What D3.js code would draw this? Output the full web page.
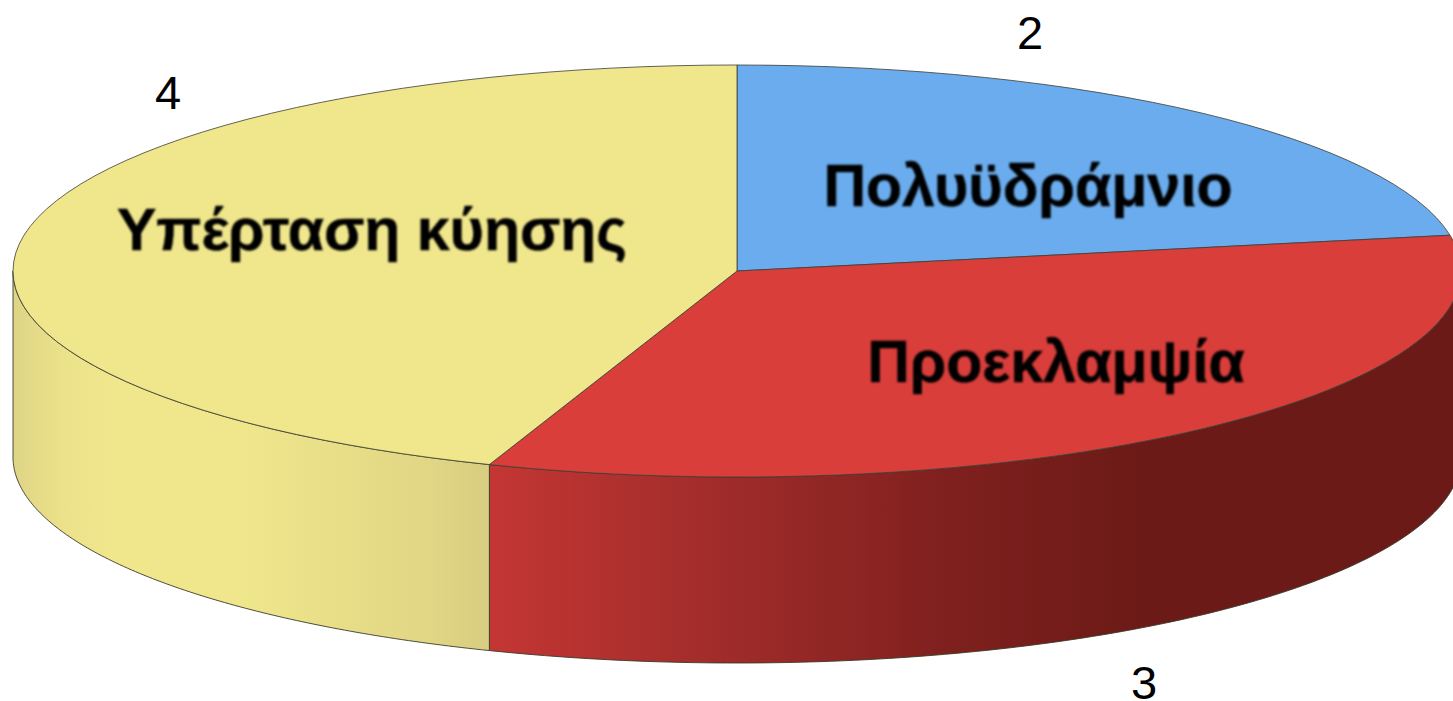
<!DOCTYPE html>
<html lang="el">
<head>
<meta charset="utf-8">
<title>Pie</title>
<script src="https://cdn.jsdelivr.net/npm/d3@7"></script>
<style>
html,body{margin:0;padding:0;background:#fff;overflow:hidden}
svg{display:block}
text{font-family:"Liberation Sans",Arial,sans-serif;fill:#000}
</style>
</head>
<body>
<svg id="chart" width="1453" height="701"></svg>
<script>
// Data
const categories = ["Πολυϋδράμνιο", "Προεκλαμψία", "Υπέρταση κύησης"];
const values = [2, 3, 4];

// Layout
const W = 1453, H = 701;
const cx = 737, cy = 271, rx = 724, ry = 206, depth = 186;
const topColors = ["#6aaced", "#d93e3b", "#f0e68c"];
const namePos = [[1028, 206], [1056, 382], [372, 250]];
const valuePos = [[1030, 49], [1144, 699], [168, 109]];
const wallStops = [
  null,
  [[489, "#c43634"], [700, "#a32d2b"], [950, "#7f201e"], [1150, "#6b1a17"], [1453, "#6b1a17"]],
  [[13, "#ded486"], [60, "#ebe18a"], [110, "#f0e68c"], [240, "#f0e68c"], [340, "#e8de88"], [430, "#e0d684"], [489, "#d8cd80"]]
];

const svg = d3.select("#chart").attr("viewBox", [0, 0, W, H]);
const defs = svg.append("defs");
defs.append("filter").attr("id", "soft")
  .append("feGaussianBlur").attr("stdDeviation", 0.8);
defs.append("clipPath").attr("id", "frame")
  .append("rect").attr("width", W).attr("height", H);

const pie = d3.pie().sort(null).value(d => d);
const arcs = pie(values);

const xOf = a => cx + rx * Math.sin(a);
const yOf = a => cy - ry * Math.cos(a);

const root = svg.append("g").attr("clip-path", "url(#frame)");

// Side wall (only the front half, PI/2..3PI/2, can be seen)
const wall = d3.area()
  .x(a => xOf(a))
  .y0(a => yOf(a))
  .y1(a => yOf(a) + depth);

arcs.forEach((d, i) => {
  const a0 = Math.max(d.startAngle, Math.PI / 2);
  const a1 = Math.min(d.endAngle, 3 * Math.PI / 2);
  if (a1 <= a0 || !wallStops[i]) return;
  const id = "wall" + i;
  const xs = wallStops[i].map(s => s[0]);
  const g = defs.append("linearGradient").attr("id", id)
    .attr("gradientUnits", "userSpaceOnUse")
    .attr("x1", xs[0]).attr("x2", xs[xs.length - 1]).attr("y1", 0).attr("y2", 0);
  wallStops[i].forEach(s => {
    g.append("stop")
      .attr("offset", (s[0] - xs[0]) / (xs[xs.length - 1] - xs[0]))
      .attr("stop-color", s[1]);
  });
  const steps = d3.range(0, 121).map(k => a0 + (a1 - a0) * k / 120);
  root.append("path")
    .attr("d", wall(steps))
    .attr("fill", `url(#${id})`)
    .attr("stroke", "#3a3a2a")
    .attr("stroke-width", 0.9)
    .attr("stroke-linejoin", "round");
});

// Top face: a normal d3 pie squashed into an ellipse
const arcGen = d3.arc().innerRadius(0).outerRadius(rx);
root.append("g")
  .attr("transform", `translate(${cx},${cy}) scale(1,${ry / rx})`)
  .selectAll("path").data(arcs).join("path")
  .attr("d", arcGen)
  .attr("fill", (d, i) => topColors[i])
  .attr("stroke", "#3d3d35")
  .attr("stroke-width", 0.8)
  .attr("stroke-linejoin", "round")
  .attr("vector-effect", "non-scaling-stroke");

// Category labels
root.append("g").selectAll("text").data(categories).join("text")
  .attr("x", (d, i) => namePos[i][0])
  .attr("y", (d, i) => namePos[i][1])
  .attr("text-anchor", "middle")
  .attr("font-size", 59)
  .attr("font-weight", "bold")
  .attr("stroke", "#000")
  .attr("stroke-width", 0.5)
  .attr("filter", "url(#soft)")
  .text(d => d);

// Value labels
root.append("g").selectAll("text").data(values).join("text")
  .attr("x", (d, i) => valuePos[i][0])
  .attr("y", (d, i) => valuePos[i][1])
  .attr("text-anchor", "middle")
  .attr("font-size", 47)
  .text(d => d);
</script>
</body>
</html>
